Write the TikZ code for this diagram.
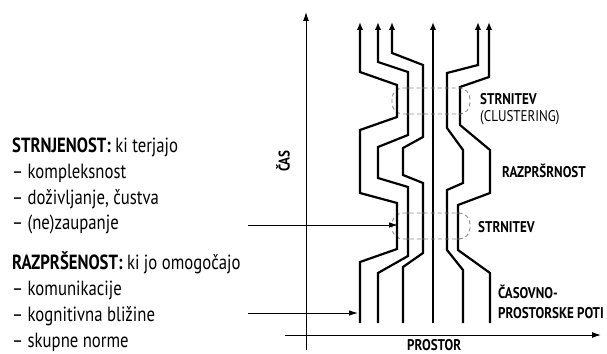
\documentclass[tikz,border=0pt]{standalone}
\usepackage{fontspec}
\setmainfont{PT Sans}[FakeStretch=0.84]
\newfontfamily\leftfont{PT Sans}[FakeStretch=0.815]
\usetikzlibrary{arrows.meta}
\begin{document}
\begin{tikzpicture}[x=1pt,y=-1pt,
  trail/.style={line width=2.2pt,line join=miter,-{Latex[length=8pt,width=6.5pt]}},
  axis/.style={line width=1pt,-{Latex[length=9pt,width=6pt]}},
  pointer/.style={line width=0.9pt,-{Latex[length=9pt,width=5.5pt]}},
  cluster/.style={dashed,dash pattern=on 4pt off 3pt,line width=0.9pt,black!45,rounded corners=11pt},
  crossdot/.style={circle,fill=black!80,inner sep=0pt,minimum size=2.6pt},
  lefttxt/.style={anchor=base west,inner sep=0pt,font=\leftfont\fontsize{20.5}{24}\selectfont},
  righttxt/.style={anchor=base west,inner sep=0pt,font=\fontsize{15.5}{18}\selectfont\bfseries}]
\useasboundingbox (0,0) rectangle (607,353);
% axes
\coordinate (vb) at (306,350); \coordinate (vt) at (306,12);
\coordinate (hl) at (285,335); \coordinate (hr) at (601,335);
\draw[axis] (vb) -- (vt);
\draw[axis] (hl) -- (hr);
\node[anchor=center,rotate=90,inner sep=0pt,font=\fontsize{15.5}{18}\selectfont\bfseries] (cas) at (283,161) {ČAS};
\node[righttxt] (prostor) at (407,350) {PROSTOR};
% clusters
\draw[cluster] (392,88) rectangle (470,114);
\draw[cluster] (392,213) rectangle (470,239);
% trails
\draw[trail] (360,323)--(360,262)--(397,249)--(397,203)--(360,193)--(360,130)--(397,117)--(397,85)--(360,72)--(360,22);
\draw[trail] (378,323)--(378,273)--(408,256)--(408,187)--(378,178)--(378,147)--(408,135)--(408,72)--(378,62)--(378,22);
\draw[trail] (403,323)--(403,267)--(423,253)--(423,183)--(403,175)--(403,148)--(423,137)--(423,65)--(392,53)--(392,22);
\draw[trail] (433,323)--(433,22);
\draw[trail] (463,323)--(463,270)--(447,250)--(447,190)--(463,183)--(463,150)--(447,128)--(447,73)--(478,65)--(478,22);
\draw[trail] (490,323)--(490,273)--(458,250)--(458,205)--(490,193)--(490,150)--(460,125)--(460,87)--(489,77)--(489,22);
% crossing dots
\foreach \yy in {88,114} {\foreach \xx in {408,423,433,447,460} {\node[crossdot] at (\xx,\yy) {};}}
\foreach \yy in {213,239} {\foreach \xx in {408,423,433,447,458} {\node[crossdot] at (\xx,\yy) {};}}
% right labels
\node[righttxt] (s1) at (480,104) {STRNITEV};
\node[righttxt,font=\fontsize{15.5}{18}\selectfont] (s1b) at (480,121) {(CLUSTERING)};
\node[righttxt] (raz) at (502,177) {RAZPRŠRNOST};
\node[righttxt] (s2) at (478,232) {STRNITEV};
\node[righttxt] (cp1) at (498,298) {ČASOVNO-};
\node[righttxt] (cp2) at (498,318) {PROSTORSKE POTI};
% left text
\node[lefttxt] (t1) at (12,152) {\textbf{STRNJENOST:} ki terjajo};
\node[lefttxt] (t2) at (12,178) {– kompleksnost};
\node[lefttxt] (t3) at (12,204) {– doživljanje, čustva};
\node[lefttxt] (t4) at (12,229) {– (ne)zaupanje};
\node[lefttxt] (t5) at (12,269) {\textbf{RAZPRŠENOST:} ki jo omogočajo};
\node[lefttxt] (t6) at (12,295) {– komunikacije};
\node[lefttxt] (t7) at (12,321) {– kognitivna bližine};
\node[lefttxt] (t8) at (12,347) {– skupne norme};
% pointers
\coordinate (p1s) at (248,225); \coordinate (p1e) at (398,225);
\coordinate (p2s) at (248,313); \coordinate (p2e) at (358,313);
\draw[pointer] (p1s) -- (p1e);
\draw[pointer] (p2s) -- (p2e);
\end{tikzpicture}
\end{document}
